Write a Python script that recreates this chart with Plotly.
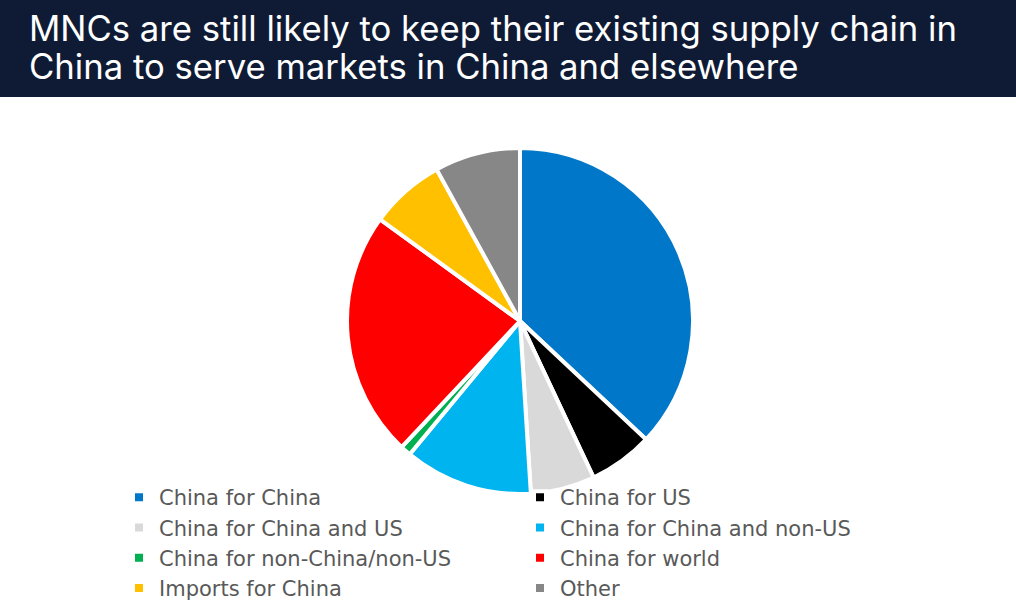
import plotly.graph_objects as go

labels = ["China for China", "China for US", "China for China and US",
          "China for China and non-US", "China for non-China/non-US",
          "China for world", "Imports for China", "Other"]
values = [37, 6, 6, 12, 1, 23, 7, 8]
colors = ["#0077c8", "#000000", "#d9d9d9", "#00b4f0", "#00b050",
          "#ff0000", "#ffc000", "#878787"]

title_lines = ["MNCs are still likely to keep their existing supply chain in",
               "China to serve markets in China and elsewhere"]

W, H = 1016, 605

fig = go.Figure(go.Pie(
    labels=labels, values=values, sort=False, direction="clockwise", rotation=0,
    marker=dict(colors=colors, line=dict(color="white", width=4)),
    textinfo="none", hoverinfo="label+percent",
    domain=dict(x=[347 / W, 693 / W], y=[1 - 494 / H, 1 - 148 / H]),
))

fig.add_shape(type="rect", xref="paper", yref="paper", x0=0, x1=1,
              y0=1 - 97 / H, y1=1, fillcolor="#0f1b34", line_width=0, layer="below")

for i, t in enumerate(title_lines):
    fig.add_annotation(text=t, xref="paper", yref="paper", x=27 / W, xanchor="left",
                       y=1 - (28 + 38 * i) / H, yanchor="middle", showarrow=False,
                       font=dict(family="Inter, Roboto, sans-serif", size=34.7, color="white"))

fig.update_layout(
    width=W, height=H, margin=dict(l=0, r=0, t=0, b=0, autoexpand=False),
    paper_bgcolor="white", plot_bgcolor="white",
    showlegend=True,
    legend=dict(orientation="h", xref="container", yref="container",
                x=119 / W, xanchor="left", y=1 - 477 / H, yanchor="top",
                entrywidth=356, entrywidthmode="pixels", traceorder="normal",
                bgcolor="rgba(0,0,0,0)",
                font=dict(family="DejaVu Sans, sans-serif", size=21, color="#595959"),
                itemclick=False),
)

fig.write_html("out.html")
